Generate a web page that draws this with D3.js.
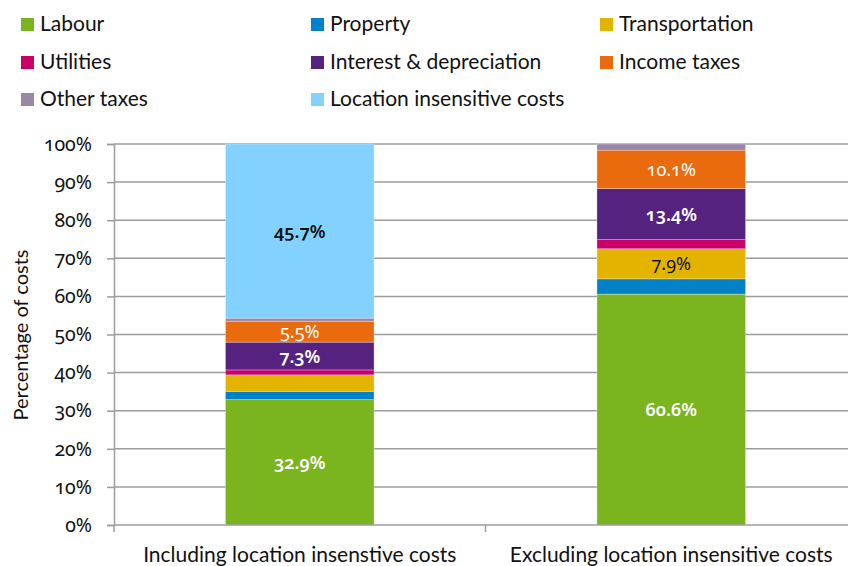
<!DOCTYPE html>
<html>
<head>
<meta charset="utf-8">
<script src="https://cdn.jsdelivr.net/npm/d3@7"></script>
<style>
  html, body { margin: 0; padding: 0; background: #fff; }
  svg { display: block; font-family: Lato, "Noto Sans", sans-serif; font-variant-numeric: oldstyle-nums; font-feature-settings: "onum" 1; }
</style>
</head>
<body>
<svg id="chart" width="848" height="566"></svg>
<script>
const categories = ["Including location insenstive costs", "Excluding location insensitive costs"];
const seriesNames = ["Labour", "Property", "Transportation", "Utilities", "Interest & depreciation", "Income taxes", "Other taxes", "Location insensitive costs"];
const includingValues = [32.9, 2.2, 4.3, 1.3, 7.3, 5.5, 0.8, 45.7];
const excludingValues = [60.6, 4.0, 7.9, 2.4, 13.4, 10.1, 1.6, 0.0];
const seriesColors = ["#7ab41e", "#0081c8", "#e2b400", "#c9006b", "#55237f", "#ea6a0e", "#9a87a8", "#82d1fe"];
const labelColors = ["#fff", "#fff", "#111", "#fff", "#fff", "#fff", "#fff", "#111"];
const yTicks = [0, 0.1, 0.2, 0.3, 0.4, 0.5, 0.6, 0.7, 0.8, 0.9, 1.0];
const yTitle = "Percentage of costs";

const W = 848, H = 566;
const svg = d3.select("#chart");
const pL = 114, pR = 857, pT = 144, pB = 525;
const numFont = "'Noto Sans', Lato, sans-serif";

const y = d3.scaleLinear().domain([0, 1]).range([pB, pT]);
const x = d3.scaleBand().domain(categories).range([pL, pR]).paddingInner(0.6).paddingOuter(0.3);

// gridlines
svg.append("g").selectAll("line").data(yTicks.slice(1)).join("line")
  .attr("x1", pL).attr("x2", W).attr("y1", d => y(d)).attr("y2", d => y(d))
  .attr("stroke", "#9c9c9c").attr("stroke-width", 1.5);

// stacked data
const rows = categories.map((c, i) => {
  const vals = i === 0 ? includingValues : excludingValues;
  const o = { cat: c };
  seriesNames.forEach((s, j) => o[s] = vals[j] / 100);
  return o;
});
const stack = d3.stack().keys(seriesNames)(rows);

const g = svg.append("g");
stack.forEach((layer, j) => {
  g.selectAll(null).data(layer).join("rect")
    .attr("x", d => x(d.data.cat))
    .attr("width", x.bandwidth())
    .attr("y", d => y(d[1]))
    .attr("height", d => Math.max(0, y(d[0]) - y(d[1])))
    .attr("fill", seriesColors[j])
    .attr("stroke", "rgba(255,255,255,0.5)")
    .attr("stroke-width", 0.6);
});

// data labels
const boldSet = new Set(["0-0", "0-4", "0-7", "1-0", "1-4"]);
stack.forEach((layer, j) => {
  layer.forEach((d, i) => {
    const v = d[1] - d[0];
    if (v < 0.05) return;
    g.append("text")
      .attr("x", x(d.data.cat) + x.bandwidth() / 2)
      .attr("y", y((d[0] + d[1]) / 2))
      .attr("dy", "0.36em")
      .attr("text-anchor", "middle")
      .attr("font-family", numFont)
      .attr("font-size", 18)
      .attr("font-weight", boldSet.has(i + "-" + j) ? 600 : 400)
      .attr("fill", labelColors[j])
      .text(d3.format(".1f")(v * 100) + "%");
  });
});

// y axis
const yAxis = svg.append("g").attr("transform", `translate(${pL},0)`)
  .call(d3.axisLeft(y).tickValues(yTicks).tickFormat(d3.format(".0%")).tickSize(7).tickPadding(15));
yAxis.select(".domain").attr("stroke", "#9c9c9c").attr("stroke-width", 1.5);
yAxis.selectAll(".tick line").attr("stroke", "#9c9c9c").attr("stroke-width", 1.5);
yAxis.selectAll(".tick text").attr("font-size", 19.5).attr("fill", "#111").attr("font-family", numFont);

// x axis
const xAxis = svg.append("g").attr("transform", `translate(0,${pB})`);
xAxis.append("line").attr("x1", pL).attr("x2", W).attr("y1", 0).attr("y2", 0)
  .attr("stroke", "#9c9c9c").attr("stroke-width", 1.5);
const bounds = [pL, pL + x.step(), pL + 2 * x.step()];
xAxis.selectAll("line.b").data(bounds).join("line").attr("class", "b")
  .attr("x1", d => d).attr("x2", d => d).attr("y1", 0).attr("y2", 7)
  .attr("stroke", "#9c9c9c").attr("stroke-width", 1.5);
xAxis.selectAll("text").data(categories).join("text")
  .attr("x", d => x(d) + x.bandwidth() / 2)
  .attr("y", 37)
  .attr("text-anchor", "middle")
  .attr("font-size", 21)
  .attr("fill", "#111")
  .text(d => d);

// y title
svg.append("text")
  .attr("transform", `translate(28,335) rotate(-90)`)
  .attr("text-anchor", "middle")
  .attr("font-size", 20)
  .attr("fill", "#111")
  .text(yTitle);

// legend
const colX = [21, 311, 600];
const rowY = [18, 56, 93];
const leg = svg.append("g");
seriesNames.forEach((s, i) => {
  const cx = colX[i % 3], cy = rowY[Math.floor(i / 3)];
  leg.append("rect").attr("x", cx).attr("y", cy).attr("width", 13).attr("height", 13).attr("fill", seriesColors[i]);
  leg.append("text").attr("x", cx + 19).attr("y", cy + 13).attr("font-size", 21).attr("fill", "#111").text(s);
});
</script>
</body>
</html>
